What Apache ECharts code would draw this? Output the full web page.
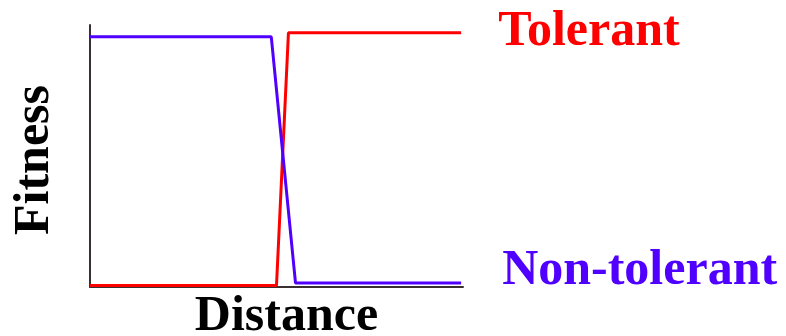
<!DOCTYPE html>
<html><head><meta charset="utf-8">
<script src="https://cdn.jsdelivr.net/npm/echarts@6/dist/echarts.min.js"></script>
<style>html,body{margin:0;padding:0;background:#fff}#c{width:786px;height:336px}</style>
</head><body><div id="c"></div>
<script>
const seriesNames = ['Tolerant', 'Non-tolerant'];
const tolerantX = [0, 50, 53.2, 99.5];
const tolerantY = [0.006, 0.006, 0.97, 0.97];
const nonTolerantX = [0, 48.6, 55.1, 99.5];
const nonTolerantY = [0.955, 0.955, 0.015, 0.015];
const xAxisName = 'Distance';
const yAxisName = 'Fitness';

const font = '"Liberation Serif", "DejaVu Serif", serif';
const pairs = (xs, ys) => xs.map((x, i) => [x, ys[i]]);
const chart = echarts.init(document.getElementById('c'), null, {renderer: 'canvas'});
chart.setOption({
  animation: false,
  backgroundColor: '#fff',
  grid: {left: 90, right: 323, top: 25, bottom: 49, containLabel: false, outerBoundsMode: 'none'},
  xAxis: {
    type: 'value', min: 0, max: 100,
    name: xAxisName, nameLocation: 'middle', nameGap: 5,
    nameTextStyle: {fontFamily: font, fontWeight: 'bold', fontSize: 50, color: '#000', padding: [0, 0, 0, 20]},
    axisLine: {lineStyle: {color: '#3a3030', width: 2}},
    axisTick: {show: false}, axisLabel: {show: false}, splitLine: {show: false}
  },
  yAxis: {
    type: 'value', min: 0, max: 1,
    name: yAxisName, nameLocation: 'middle', nameGap: 30, nameRotate: 90,
    nameTextStyle: {fontFamily: font, fontWeight: 'bold', fontSize: 50, color: '#000', padding: [0, 8, 0, 0]},
    axisLine: {show: true, lineStyle: {color: '#3a3030', width: 2}},
    axisTick: {show: false}, axisLabel: {show: false}, splitLine: {show: false}
  },
  series: [
    {
      name: seriesNames[0], type: 'line', data: pairs(tolerantX, tolerantY),
      symbol: 'none', lineStyle: {color: '#ff0000', width: 3}, itemStyle: {color: '#ff0000'},
      endLabel: {show: true, formatter: seriesNames[0], fontFamily: font, fontWeight: 'bold', fontSize: 50,
        color: '#ff0000', distance: 37, offset: [0, -1]}
    },
    {
      name: seriesNames[1], type: 'line', data: pairs(nonTolerantX, nonTolerantY),
      symbol: 'none', lineStyle: {color: '#5000ff', width: 3}, itemStyle: {color: '#5000ff'},
      endLabel: {show: true, formatter: seriesNames[1], fontFamily: font, fontWeight: 'bold', fontSize: 50,
        color: '#5000ff', distance: 41, offset: [0, -12]}
    }
  ]
});
</script></body></html>
